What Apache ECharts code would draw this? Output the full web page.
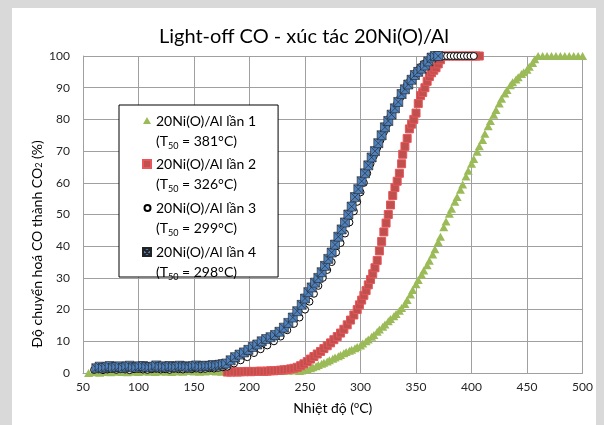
<!DOCTYPE html>
<html><head><meta charset="utf-8">
<script src="https://cdn.jsdelivr.net/npm/echarts@6/dist/echarts.min.js"></script>
<style>
html,body{margin:0;padding:0;background:#d9d9d9;width:604px;height:425px;overflow:hidden}
#c{position:absolute;left:12px;top:8px;width:584px;height:417px;background:#fff}
</style></head><body><div id="c"></div>
<script>
const titleText = 'Light-off CO - xúc tác 20Ni(O)/Al';
const xAxisTitle = 'Nhiệt độ ({sup|o}C)';
const yAxisTitle = 'Độ chuyển hoá CO thành CO{sub|2} (%)';
const seriesNames = ['20Ni(O)/Al lần 1', '20Ni(O)/Al lần 2', '20Ni(O)/Al lần 3', '20Ni(O)/Al lần 4'];
const t50Labels = ['381', '326', '299', '298'];
const xTicks = {min: 50, max: 500, interval: 50};
const yTicks = {min: 0, max: 100, interval: 10};

// lần 1 (green triangles)
const lan1Temp = [55,60,65,70,75,80,85,90,95,100,105,110,115,120,125,130,135,140,145,150,155,160,165,170,175,180,185,190,195,200,205,210,215,220,225,230,235,240,
245,247,250,252,255,257,260,262,265,267,270,272,275,277,280,282,285,287,290,292,295,297,300,302,305,307,310,312,315,317,320,322,325,327,330,332,335,337,340,342,345,347,350,352,355,357,360,362,365,367,370,372,375,377,380,382,385,387,390,392,395,397,400,402,405,407,410,412,415,417,420,422,425,427,430,432,435,437,440,442,445,447,450,452,455,457,460,464,468,472,476,480,484,488,492,496,500];
const lan1Conv = [0,0.2,0.1,0.3,0.2,0.4,0.3,0.2,0.4,0.3,0.5,0.4,0.3,0.5,0.4,0.3,0.5,0.4,0.6,0.5,0.4,0.5,0.6,0.5,0.4,0.6,0.5,0.6,0.5,0.6,0.7,0.6,0.5,0.6,0.7,0.6,0.7,0.8,
0.6,0.8,1.0,1.2,1.5,1.8,2.1,2.5,2.9,3.2,3.6,4.0,4.5,4.9,5.3,5.7,6.2,6.6,7.0,7.3,7.8,8.2,8.7,9.3,10.0,10.6,11.4,12.0,13.0,13.7,14.6,15.3,16.3,17.0,17.9,18.6,19.6,20.5,21.8,23.0,24.8,26.2,28.0,29.3,31.0,32.3,34.0,35.4,37.4,39.0,41.3,43.0,46.0,47.8,50.2,51.8,54.0,55.5,57.8,59.5,62.0,63.8,66.0,67.5,69.8,71.5,73.5,75.5,77.8,79.5,81.5,83.0,85.0,86.5,88.2,89.3,90.8,91.7,92.6,93.3,94.3,94.9,95.7,96.6,97.8,99.0,100,100,100,100,100,100,100,100,100,100,100];

// lần 2 (red squares)
const lan2Temp = [180,183,186,189,192,195,198,201,204,207,210,213,216,219,222,225,228,231,234,237,240,243,246,249,252,255,258,261,264,267,270,273,276,279,282,285,288,291,294,297,299,301,303,305,307,309,311,313,315,317,319,321,323,325,327,329,331,333,335,337,338,340,342,344,346,348,350,352,354,356,358,360,362,364,366,368,370,372,374,377,380,383,386,389,392,395,398,401,404,407];
const lan2Conv = [0.3,0.3,0.4,0.3,0.4,0.4,0.5,0.4,0.5,0.5,0.6,0.5,0.6,0.7,0.7,0.8,0.9,1.0,1.1,1.3,1.5,1.8,2.3,2.9,3.6,4.4,5.2,6.0,6.8,7.7,8.6,9.5,10.5,11.5,12.6,13.8,15.2,16.7,18.3,20.0,21.5,23.0,24.5,26.0,27.8,29.5,31.3,33.2,35.5,38.5,41.5,44.5,47.3,50.0,53.0,56.0,58.5,60.5,63.0,66.0,69.0,71.5,74.0,77.0,78.5,80.0,82.0,85.0,87.5,88.5,90.0,92.0,93.5,94.7,95.5,96.3,97.5,98.8,100,100,100,100,100,100,100,100,100,100,100,100];

// lần 3 (open circles)
const lan3Temp = [60,64,68,72,76,80,84,88,92,96,100,104,108,112,116,120,124,128,132,136,140,144,148,152,156,160,164,168,172,176,180,186,192,198,204,210,216,222,228,234,240,245,250,254,258,262,266,270,274,278,282,286,290,294,297,300,303,306,309,312,315,318,321,324,327,330,333,336,339,342,345,348,351,354,357,360,363,366,369,372,375,378,381,384,387,390,393,396,399,402];
const lan3Conv = [1.0,1.2,0.9,1.1,1.3,1.0,1.2,1.1,0.9,1.2,1.3,1.1,1.0,1.2,1.3,1.1,1.2,1.0,1.3,1.2,1.1,1.3,1.2,1.4,1.2,1.3,1.5,1.4,1.6,1.8,2.0,3.0,4.0,5.0,6.3,7.5,8.7,10.0,11.5,13.5,15.5,17.5,20.0,22.5,25.0,27.5,30.0,32.5,35.0,38.0,41.0,44.0,47.5,51.0,54.0,57.0,60.0,63.0,66.0,68.5,71.0,73.5,76.0,78.5,81.0,83.0,85.0,87.0,89.0,91.0,92.5,94.0,95.3,96.5,97.5,98.5,99.3,100,100,100,100,100,100,100,100,100,100,100,100,100];

// lần 4 (blue crossed squares)
const lan4Temp = [62,65,68,71,74,77,80,83,86,89,92,95,98,101,104,107,110,113,116,119,122,125,128,131,134,137,140,143,146,149,152,155,158,161,164,167,170,173,176,179,183,187,191,195,199,203,207,211,215,219,223,227,231,235,239,243,247,250,253,256,259,262,265,268,271,274,277,280,283,286,289,292,295,298,301,304,307,310,313,316,319,322,325,328,331,334,337,340,343,346,349,352,355,358,361,364,367,370];
const lan4Conv = [1.5,2.0,1.6,1.8,2.2,1.7,1.9,2.1,1.6,2.0,2.3,1.8,1.7,2.1,2.2,1.9,1.8,2.0,2.4,1.9,2.1,1.8,2.2,2.0,1.9,2.3,2.1,2.0,1.8,2.2,2.4,2.0,2.1,2.3,2.2,2.5,2.3,2.6,2.8,3.0,4.0,5.0,5.8,6.5,7.3,8.2,9.0,10.0,10.7,11.3,12.0,13.0,14.3,15.8,17.5,19.5,21.5,23.5,25.5,27.0,28.5,30.0,31.8,33.8,36.0,38.0,40.5,43.0,45.3,47.5,50.0,52.5,55.5,58.0,60.5,63.0,65.5,68.0,70.0,72.5,75.0,77.5,79.5,81.5,83.5,85.5,88.0,89.5,91.0,92.5,94.0,95.0,96.0,97.0,98.3,99.5,100,100];

const FONT = 'Lato';
function pairs(t, v) { return t.map((x, i) => [x, v[i]]); }

const lan4Symbol = 'path://M0,0L10,0L10,10L0,10ZM0,0L10,10M10,0L0,10';
const legendIcons = [
  'path://M0,0M0,40M4,6L8,13L0,13Z',
  'path://M0,0M0,40M0,6L8,6L8,14L0,14Z',
  'path://M0,0M0,40M7,10A3,3,0,1,1,1,10A3,3,0,1,1,7,10Z',
  'path://M0,0M0,40M0,6L8,6L8,14L0,14ZM0,6L8,14M8,6L0,14'
];

const chart = echarts.init(document.getElementById('c'), null, {renderer: 'canvas'});
chart.setOption({
  animation: false,
  backgroundColor: '#ffffff',
  title: {
    text: titleText, left: 'center', top: 14,
    textStyle: {fontFamily: FONT, fontSize: 20, fontWeight: 'normal', color: '#000'}
  },
  grid: {left: 71, right: 13, top: 48, bottom: 52},
  graphic: [{
    type: 'text', x: 25, y: 236, rotation: Math.PI / 2,
    style: {
      text: yAxisTitle, align: 'center', verticalAlign: 'middle',
      fontFamily: FONT, fontSize: 14, fill: '#000',
      rich: {sub: {fontSize: 9, verticalAlign: 'bottom', fontFamily: FONT, fill: '#000'}}
    }
  }],
  xAxis: {
    type: 'value', min: xTicks.min, max: xTicks.max, interval: xTicks.interval,
    name: xAxisTitle, nameLocation: 'middle', nameGap: 28,
    nameTextStyle: {fontFamily: FONT, fontSize: 14, color: '#000', rich: {sup: {fontSize: 9, verticalAlign: 'top', fontFamily: FONT, color: '#000'}}},
    axisLine: {show: true, lineStyle: {color: '#a0a0a0', width: 1}},
    axisTick: {show: false},
    axisLabel: {fontFamily: FONT, fontSize: 12, color: '#262626', margin: 8},
    splitLine: {show: true, lineStyle: {color: '#a0a0a0', width: 1}}
  },
  yAxis: {
    type: 'value', min: yTicks.min, max: yTicks.max, interval: yTicks.interval,
    axisLine: {show: true, lineStyle: {color: '#a0a0a0', width: 1}},
    axisTick: {show: false},
    axisLabel: {fontFamily: FONT, fontSize: 12, color: '#262626', margin: 13},
    splitLine: {show: true, lineStyle: {color: '#a0a0a0', width: 1}}
  },
  legend: {
    orient: 'vertical', left: 107, top: 97,
    padding: [6, 22, -6, 23], itemGap: 2, itemWidth: 8, itemHeight: 40,
    backgroundColor: '#fff', borderColor: '#000', borderWidth: 1, borderRadius: 0,
    selectedMode: false,
    textStyle: {fontFamily: FONT, fontSize: 14, color: '#000', lineHeight: 20,
      rich: {sub: {fontFamily: FONT, fontSize: 9, lineHeight: 20, verticalAlign: 'bottom', color: '#000'}}},
    formatter: function (name) {
      const i = seriesNames.indexOf(name);
      return name + '\n(T{sub|50} = ' + t50Labels[i] + '°C)';
    },
    data: seriesNames.map((n, i) => ({name: n, icon: legendIcons[i]}))
  },
  series: [
    {name: seriesNames[0], type: 'scatter', data: pairs(lan1Temp, lan1Conv), symbol: 'triangle', symbolSize: [9, 8],
      itemStyle: {color: '#9bbb59', opacity: 1}, z: 2},
    {name: seriesNames[1], type: 'scatter', data: pairs(lan2Temp, lan2Conv), symbol: 'rect', symbolSize: 8,
      itemStyle: {color: '#c0504d', borderColor: '#e8555a', borderWidth: 1, opacity: 1}, z: 3},
    {name: seriesNames[2], type: 'scatter', data: pairs(lan3Temp, lan3Conv), symbol: 'circle', symbolSize: 7,
      itemStyle: {color: '#ffffff', borderColor: '#000000', borderWidth: 1, opacity: 1}, z: 4},
    {name: seriesNames[3], type: 'scatter', data: pairs(lan4Temp, lan4Conv), symbol: lan4Symbol, symbolSize: 9,
      itemStyle: {color: '#4f81bd', borderColor: '#222', borderWidth: 0.6, opacity: 1}, z: 5}
  ]
});
</script></body></html>
